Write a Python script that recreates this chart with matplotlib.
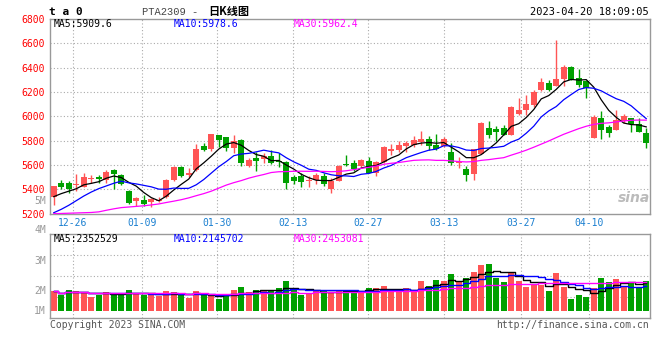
import numpy as np
import pandas as pd
import matplotlib.pyplot as plt

# 数据 (从图上读取, PTA2309 日K)
tick_labels = ['12-26', '01-09', '01-30', '02-13', '02-27', '03-13', '03-27', '04-10']
opens = [5340, 5455, 5450, 5433, 5422, 5485, 5502, 5474, 5559, 5521,
         5387, 5307, 5313, 5299, 5307, 5340, 5474, 5581, 5521, 5559,
         5759, 5729, 5847, 5828, 5743, 5806, 5595, 5658, 5650, 5674,
         5633, 5628, 5504, 5510, 5469, 5477, 5510, 5400, 5472, 5609,
         5619, 5595, 5633, 5537, 5622, 5718, 5724, 5756, 5765, 5789,
         5814, 5765, 5759, 5710, 5619, 5567, 5526, 5691, 5904, 5896,
         5902, 5847, 6020, 6052, 6094, 6217, 6277, 6250, 6307, 6409,
         6313, 6291, 5825, 5984, 5910, 5888, 5962, 5984, 5935, 5866]
highs = [5430, 5477, 5469, 5526, 5537, 5518, 5515, 5559, 5567, 5529,
         5395, 5340, 5354, 5326, 5335, 5483, 5589, 5592, 5576, 5773,
         5778, 5858, 5850, 5833, 5847, 5811, 5661, 5710, 5702, 5721,
         5702, 5630, 5515, 5537, 5510, 5532, 5532, 5491, 5600, 5683,
         5644, 5647, 5663, 5633, 5756, 5776, 5800, 5800, 5841, 5880,
         5839, 5855, 5833, 5778, 5663, 5595, 5729, 5956, 5962, 5921,
         5929, 6085, 6148, 6176, 6217, 6313, 6299, 6628, 6422, 6417,
         6389, 6299, 6011, 6044, 5929, 6052, 6017, 5984, 5984, 5902]
lows = [5272, 5400, 5373, 5389, 5417, 5450, 5450, 5455, 5406, 5436,
        5282, 5263, 5263, 5258, 5299, 5332, 5469, 5499, 5504, 5554,
        5718, 5718, 5751, 5715, 5702, 5592, 5581, 5551, 5614, 5606,
        5587, 5403, 5444, 5422, 5422, 5444, 5428, 5373, 5469, 5592,
        5550, 5587, 5532, 5510, 5619, 5683, 5707, 5710, 5746, 5765,
        5724, 5724, 5751, 5600, 5578, 5472, 5477, 5691, 5822, 5800,
        5845, 5845, 6011, 6011, 6080, 6209, 6211, 6250, 6252, 6299,
        6244, 6154, 5820, 5814, 5830, 5888, 5943, 5874, 5869, 5743]
closes = [5428, 5417, 5400, 5439, 5502, 5488, 5485, 5543, 5529, 5441,
          5291, 5329, 5282, 5318, 5313, 5477, 5584, 5513, 5537, 5732,
          5724, 5855, 5806, 5743, 5795, 5614, 5641, 5636, 5674, 5614,
          5622, 5455, 5469, 5461, 5472, 5518, 5441, 5472, 5592, 5604,
          5570, 5641, 5537, 5628, 5751, 5732, 5765, 5784, 5806, 5814,
          5759, 5732, 5814, 5614, 5622, 5521, 5729, 5943, 5847, 5872,
          5847, 6080, 6052, 6102, 6198, 6285, 6217, 6307, 6409, 6299,
          6258, 6236, 5998, 5888, 5866, 5970, 6003, 5935, 5874, 5784]
# 成交量, 单位: 百万
volumes = [1.97, 1.79, 2.04, 1.99, 1.92, 1.69, 1.79, 1.94, 1.79, 1.89,
           2.04, 1.82, 1.79, 1.79, 1.72, 1.99, 1.94, 1.79, 1.64, 1.99,
           1.79, 1.75, 1.59, 1.75, 2.04, 2.19, 1.94, 2.04, 2.04, 1.97,
           2.14, 2.49, 2.07, 1.79, 1.89, 2.04, 1.99, 1.87, 1.99, 2.04,
           2.00, 1.99, 2.14, 2.14, 2.24, 1.97, 1.97, 2.14, 1.97, 2.49,
           2.24, 2.54, 2.49, 2.84, 2.44, 2.64, 2.94, 3.29, 3.34, 2.64,
           2.44, 2.89, 2.49, 2.19, 2.29, 2.29, 2.00, 2.89, 2.19, 1.59,
           1.79, 1.69, 2.14, 2.64, 2.44, 2.59, 2.19, 2.39, 2.19, 2.49]
# 图左端均线 (需要更早的数据, 直接读图)
ma5_head = [5340, 5365, 5385, 5405]
ma10_head = [5208, 5236, 5269, 5307, 5345, 5378, 5406, 5428, 5450]
ma30_head = [5200, 5202, 5204, 5206, 5208, 5210, 5215, 5228, 5240, 5250,
             5255, 5260, 5265, 5272, 5280, 5292, 5303, 5315, 5330, 5348,
             5365, 5385, 5410, 5435, 5455, 5472, 5492, 5508, 5522]

RED = '#ff5555'
GREEN = '#00a000'
GRID = '#aaaaaa'
MONO = 'DejaVu Sans Mono'

n = len(closes)
x = np.arange(n)
cs = pd.Series(closes, dtype=float)
ma5 = cs.rolling(5).mean()
ma10 = cs.rolling(10).mean()
ma30 = cs.rolling(30).mean()
ma5.iloc[:len(ma5_head)] = ma5_head
ma10.iloc[:len(ma10_head)] = ma10_head
ma30.iloc[:len(ma30_head)] = ma30_head

vs = pd.Series(volumes)
vma5 = vs.rolling(5, min_periods=1).mean()
vma10 = vs.rolling(10, min_periods=1).mean()
vma30 = vs.rolling(30, min_periods=1).mean()

colors = [RED if c >= o else GREEN for o, c in zip(opens, closes)]

W, H = 660, 360
fig = plt.figure(figsize=(6.6, 3.6), dpi=100)

def px(xp, yp, s, **kw):
    return fig.text(xp / W, 1 - yp / H, s, **kw)

ax1 = fig.add_axes([50 / W, 1 - 213.7 / H, 600 / W, (213.7 - 19) / H])
ax2 = fig.add_axes([50 / W, 1 - 318 / H, 600 / W, (318 - 234.3) / H])

# 刻度位置 (K线序号)
tick_pos = [2.53, 11.73, 21.77, 31.9, 41.94, 52.07, 62.26, 71.4]

for ax in (ax1, ax2):
    ax.set_xlim(-0.5, n - 0.5)
    for s in ax.spines.values():
        s.set_color('#999999')
        s.set_linewidth(1)
    ax.tick_params(length=0)
    for t in tick_pos:
        ax.axvline(t, color=GRID, lw=0.8, ls=(0, (1, 2)), zorder=0)

# K线
ax1.set_ylim(5200, 6800)
ax1.set_yticks(range(5200, 6801, 200))
ax1.set_yticklabels([str(v) for v in range(5200, 6801, 200)], color='red',
                    fontfamily=MONO, fontsize=7)
ax1.tick_params(axis='y', pad=4)
for v in range(5400, 6800, 200):
    ax1.axhline(v, color=GRID, lw=0.8, ls=(0, (1, 2)), zorder=0)

body_lo = np.minimum(opens, closes)
body_h = np.maximum(np.abs(np.array(closes) - np.array(opens)), 8)
ax1.vlines(x, lows, highs, colors=colors, lw=1, zorder=2)
ax1.bar(x, body_h, bottom=body_lo, width=0.76, color=colors, zorder=3)

ax1.plot(x, ma5, color='black', lw=0.9, zorder=4)
ax1.plot(x, ma10, color='blue', lw=0.9, zorder=4)
ax1.plot(x, ma30, color='magenta', lw=0.9, zorder=4)

ax1.set_xticks(tick_pos)
ax1.set_xticklabels(tick_labels, color='#1a7fd0', fontfamily=MONO, fontsize=7)
ax1.tick_params(axis='x', pad=3)

# 成交量
vbase = 1.0
ax2.set_ylim(0.635, 4.82)
lo, hi = ax2.get_ylim()
for k in range(1, 4):
    ax2.axhline(lo + k * (hi - lo) / 4, color=GRID, lw=0.8, ls=(0, (1, 2)), zorder=0)
ax2.bar(x, np.array(volumes) - vbase, bottom=vbase, width=0.8, color=colors, zorder=2)
ax2.plot(x, vma5, color='black', lw=1, drawstyle='steps-mid', zorder=3)
ax2.plot(x, vma10, color='blue', lw=1, drawstyle='steps-mid', zorder=3)
ax2.plot(x, vma30, color='magenta', lw=1, drawstyle='steps-mid', zorder=3)
ax2.set_xticks([])
ax2.set_yticks([])
# 成交量刻度文字 (像素位置)
for yp, lab in zip([311, 291, 261, 230, 201], ['1M', '2M', '3M', '4M', '5M']):
    px(46, yp, lab, ha='right', va='center', color='#999999', fontfamily=MONO,
       fontsize=7, zorder=10)

# 文字
px(49, 12, 't a 0', fontfamily=MONO, fontweight='bold', fontsize=8, va='center')
px(142, 12, 'PTA2309 -', fontfamily='Liberation Mono', color='#444444', fontsize=7.5, va='center')
px(208, 12, '日K线图', fontfamily=['Noto Sans CJK SC', 'DejaVu Sans'], fontweight='bold',
   fontsize=8, va='center')
px(649, 12, '2023-04-20 18:09:05', fontfamily=MONO, fontsize=7.5, ha='right', va='center')

px(54, 24, 'MA5:%.1f' % 5909.6, fontfamily=MONO, fontsize=7, va='center', color='black')
px(174, 24, 'MA10:%.1f' % 5978.6, fontfamily=MONO, fontsize=7, va='center', color='blue')
px(294, 24, 'MA30:%.1f' % 5962.4, fontfamily=MONO, fontsize=7, va='center', color='magenta')

px(54, 239, 'MA5:2352529', fontfamily=MONO, fontsize=7, va='center', color='black')
px(174, 239, 'MA10:2145702', fontfamily=MONO, fontsize=7, va='center', color='blue')
px(294, 239, 'MA30:2453081', fontfamily=MONO, fontsize=7, va='center', color='magenta')

px(50, 325, 'Copyright 2023 SINA.COM', fontfamily=MONO, fontsize=7, va='center', color='#555555')
px(649, 325, 'http://finance.sina.com.cn', fontfamily=MONO, fontsize=7, ha='right',
   va='center', color='#555555')

px(634, 198, 'sina', fontfamily='DejaVu Sans', fontsize=10, fontweight='bold', style='italic',
   ha='center', va='center', color='#bbbbbb')

fig.savefig('out.png', dpi=100)
